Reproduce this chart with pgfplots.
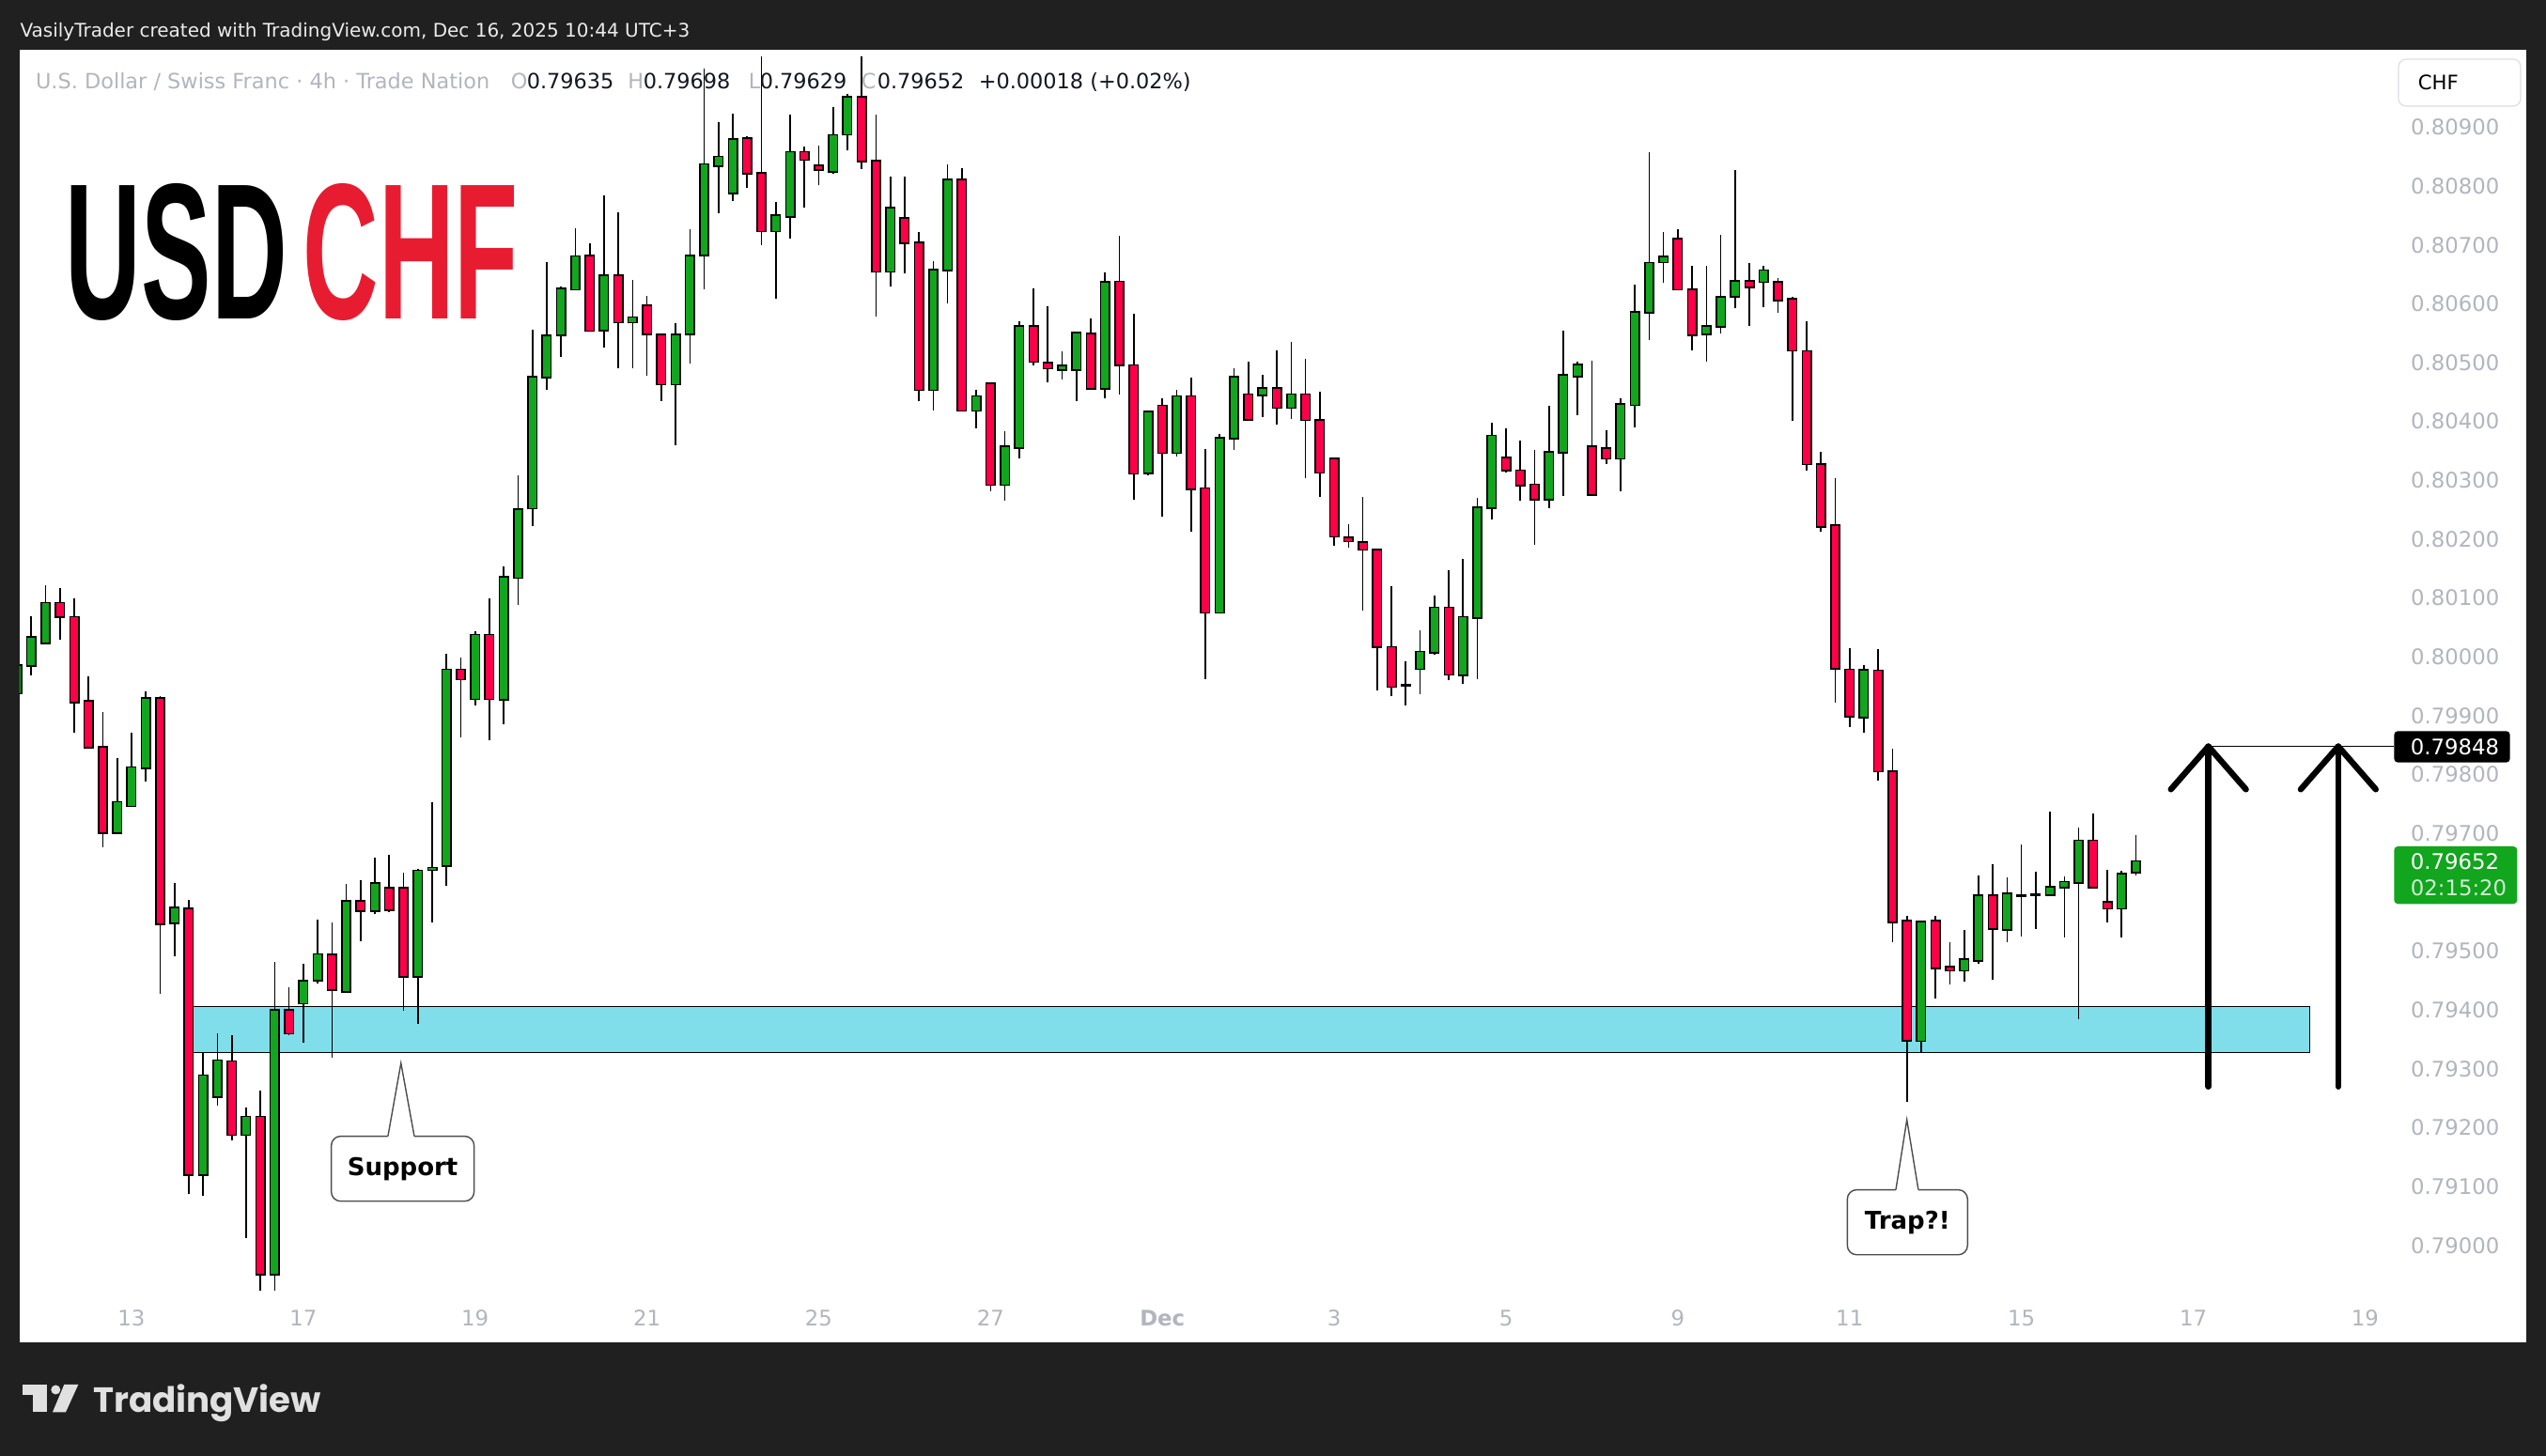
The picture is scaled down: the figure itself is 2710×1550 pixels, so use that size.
\documentclass[border=0pt]{standalone}
\usepackage{fontspec}
\usepackage{pgfplots}
\usepackage{pgfplotstable}
\pgfplotsset{compat=1.18}
\setmainfont{DejaVu Sans}
\newfontfamily\libsans{Liberation Sans}
\newfontfamily\popfont{Poppins}
\definecolor{tvframe}{RGB}{32,32,32}
\definecolor{cgreen}{RGB}{18,165,30}
\definecolor{cred}{RGB}{255,0,72}
\definecolor{zonecol}{RGB}{128,222,234}
\definecolor{tvgray}{RGB}{178,181,190}
\definecolor{tvdark}{RGB}{19,23,34}
\definecolor{logored}{RGB}{232,28,48}
\definecolor{logowhite}{RGB}{224,224,224}
\newcommand\tickfont{\fontsize{5.7pt}{6.8pt}\selectfont}

% prices in units of 0.00001
\pgfplotstableread{
x o h l c
-8 79939 79990 79925 79985
-7 79986 80069 79968 80033
-6 80024 80122 80021 80091
-1 79702 79828 79702 79753
0 79747 79872 79746 79812
1 79812 79942 79789 79929
3 79549 79616 79491 79573
5 79121 79327 79084 79288
6 79253 79361 79237 79314
8 79189 79234 79012 79218
10 78952 79482 78924 79399
12 79412 79479 79345 79449
13 79451 79554 79445 79494
15 79432 79614 79429 79584
17 79569 79659 79563 79615
20 79458 79640 79377 79636
21 79639 79753 79549 79641
22 79646 80006 79611 79978
24 79929 80044 79918 80037
26 79928 80153 79885 80135
27 80135 80309 80089 80250
28 80253 80556 80222 80475
29 80476 80671 80454 80545
30 80548 80630 80509 80625
31 80625 80728 80624 80680
33 80556 80784 80525 80647
35 80569 80640 80490 80576
38 80464 80567 80360 80547
39 80549 80726 80498 80681
40 80683 81000 80625 80836
41 80835 80908 80753 80849
42 80789 80923 80775 80879
45 80724 80773 80608 80749
46 80749 80921 80711 80857
49 80825 80934 80821 80886
50 80888 80957 80860 80950
53 80655 80816 80630 80762
56 80454 80672 80419 80657
57 80658 80836 80600 80810
59 80419 80453 80389 80442
61 80293 80383 80265 80357
62 80356 80571 80337 80561
65 80489 80519 80472 80494
66 80489 80553 80435 80550
68 80457 80653 80439 80636
71 80313 80416 80309 80416
73 80347 80453 80341 80442
76 80076 80378 80075 80371
77 80372 80491 80352 80475
79 80445 80480 80407 80456
81 80424 80535 80405 80445
90 79980 80045 79936 80008
91 80008 80104 80003 80083
93 79970 80166 79955 80067
94 80067 80271 79963 80253
95 80254 80398 80233 80375
99 80268 80426 80253 80347
100 80348 80554 80274 80478
101 80477 80501 80411 80496
104 80338 80440 80282 80429
105 80429 80633 80390 80585
106 80586 80857 80538 80669
107 80671 80722 80635 80679
110 80549 80664 80501 80561
111 80562 80717 80549 80610
112 80613 80827 80592 80638
114 80638 80665 80594 80656
121 79898 79986 79871 79977
125 79348 79550 79329 79549
128 79468 79536 79449 79485
129 79485 79629 79478 79594
131 79537 79626 79515 79597
134 79596 79737 79595 79608
135 79609 79627 79524 79617
136 79617 79710 79385 79687
139 79573 79636 79523 79631
140 79635 79698 79629 79652
}\greentab

\pgfplotstableread{
x o h l c
-5 80091 80117 80030 80069
-4 80067 80100 79872 79924
-3 79924 79967 79845 79847
-2 79846 79907 79677 79702
2 79929 79934 79428 79547
4 79572 79587 79087 79121
7 79312 79357 79178 79189
9 79218 79263 78924 78952
11 79399 79439 79358 79361
14 79493 79549 79319 79435
16 79584 79621 79517 79569
18 79607 79664 79566 79571
19 79607 79633 79399 79458
23 79978 79999 79864 79963
25 80037 80100 79858 79929
32 80681 80702 80552 80555
34 80647 80755 80490 80569
36 80596 80614 80477 80549
37 80547 80547 80435 80464
43 80880 80885 80797 80822
44 80821 81020 80699 80724
47 80857 80867 80764 80845
48 80834 80868 80801 80828
51 80950 81020 80829 80843
52 80842 80921 80579 80655
54 80745 80816 80651 80704
55 80703 80722 80434 80454
58 80810 80830 80418 80419
60 80464 80464 80282 80293
63 80561 80626 80496 80502
64 80499 80596 80466 80491
67 80548 80575 80457 80457
69 80637 80716 80445 80497
70 80495 80583 80267 80312
72 80426 80439 80239 80347
74 80442 80475 80212 80286
75 80286 80353 79963 80076
78 80445 80501 80404 80404
80 80456 80520 80395 80424
82 80445 80506 80304 80403
83 80401 80450 80272 80314
84 80336 80339 80189 80205
85 80202 80225 80185 80197
86 80194 80272 80078 80183
87 80181 80184 79943 80018
88 80016 80120 79933 79950
92 80083 80148 79960 79971
96 80338 80388 80313 80318
97 80316 80367 80266 80292
98 80292 80351 80191 80268
102 80357 80503 80274 80276
103 80354 80385 80328 80338
108 80709 80726 80624 80625
109 80623 80665 80521 80548
113 80638 80670 80563 80629
115 80636 80643 80584 80607
116 80607 80612 80401 80521
117 80519 80570 80317 80328
118 80326 80348 80213 80222
119 80223 80304 79923 79981
120 79978 80015 79881 79900
122 79976 80013 79790 79806
123 79805 79844 79516 79550
124 79551 79560 79244 79349
126 79551 79560 79420 79472
127 79473 79515 79444 79468
130 79594 79648 79452 79539
137 79687 79734 79609 79609
138 79583 79639 79549 79573
}\redtab

\pgfplotstableread{
x o h l c
89 79952 79993 79918 79952
132 79595 79681 79525 79595
133 79596 79635 79538 79596
}\dojitab

\pgfplotsset{
  cbase/.style={draw=none, mark=none, forget plot,
    error bars/y dir=plus, error bars/y explicit, error bars/error mark=none},
  wick/.style={cbase, error bars/error bar style={draw=black, line width=0.42pt, line cap=butt}},
  underlay/.style={cbase, error bars/error bar style={draw=black, line width=2.75pt, line cap=butt}},
  bodyfill/.style={cbase, error bars/error bar style={draw=#1, line width=1.95pt, line cap=butt}},
}
\tikzset{
  callout/.style={draw=black!70, fill=white, rounded corners=2.5pt, line width=0.35pt,
    font=\bfseries\fontsize{6.5pt}{7.5pt}\selectfont, text=black,
    minimum height=17.3pt, inner sep=0pt},
}

\begin{document}
\begin{tikzpicture}
% ---------- frame and panel (full-size pixel coordinates) ----------
\begin{scope}[x=0.25pt,y=-0.25pt,shift={(-20.7,-1380)}]
  \fill[tvframe] (0,0) rectangle (2710,1550);
  \fill[white] (20.7,53.5) rectangle (2689,1429);
\end{scope}

\begin{axis}[
  at={(0pt,0pt)}, anchor=south west,
  scale only axis, width=631.9pt, height=331.625pt,
  xmin=-7.828, xmax=158.03, ymin=78913.74, ymax=81030.7,
  axis line style={draw=none},
  major tick length=0pt, tick style={draw=none},
  scaled y ticks=false, scaled x ticks=false,
  xtick={0,12,24,36,48,60,72,84,96,108,120,132,144,156},
  xticklabels={13,17,19,21,25,27,\textbf{Dec},3,5,9,11,15,17,19},
  xticklabel style={font=\tickfont, text=tvgray, anchor=center, yshift=-5.75pt},
  ytick={79000,79100,79200,79300,79400,79500,79700,79800,79900,80000,80100,80200,80300,80400,80500,80600,80700,80800,80900},
  yticklabels={0.79000,0.79100,0.79200,0.79300,0.79400,0.79500,0.79700,0.79800,0.79900,0.80000,0.80100,0.80200,0.80300,0.80400,0.80500,0.80600,0.80700,0.80800,0.80900},
  yticklabel pos=right,
  yticklabel style={font=\tickfont, text=tvgray, anchor=west, inner sep=0pt, xshift=4.25pt},
]
% support zone
\addplot[fill=zonecol, draw=black, line width=0.33pt, forget plot]
  coordinates {(4.27,79327.6) (152.12,79327.6) (152.12,79405.8) (4.27,79405.8)} -- cycle;

% wicks
\addplot[wick] table[x=x, y=l, y error plus expr=\thisrow{h}-\thisrow{l}] {\greentab};
\addplot[wick] table[x=x, y=l, y error plus expr=\thisrow{h}-\thisrow{l}] {\redtab};
\addplot[wick] table[x=x, y=l, y error plus expr=\thisrow{h}-\thisrow{l}] {\dojitab};
% body outlines
\addplot[underlay] table[x=x, y expr=\thisrow{o}-2.55, y error plus expr=\thisrow{c}-\thisrow{o}+5.1] {\greentab};
\addplot[underlay] table[x=x, y expr=\thisrow{c}-2.55, y error plus expr=\thisrow{o}-\thisrow{c}+5.1] {\redtab};
\addplot[underlay] table[x=x, y expr=\thisrow{o}-2.55, y error plus expr=5.1] {\dojitab};
% body fills
\addplot[bodyfill=cgreen] table[x=x, y=o, y error plus expr=\thisrow{c}-\thisrow{o}] {\greentab};
\addplot[bodyfill=cred] table[x=x, y=c, y error plus expr=\thisrow{o}-\thisrow{c}] {\redtab};

% level line and arrows
\addplot[black, line width=0.45pt, forget plot] coordinates {(145.06,79848) (158.03,79848)};
\addplot[black, line width=1.6pt, line cap=round, forget plot] coordinates {(145.06,79270) (145.06,79848)};
\addplot[black, line width=1.6pt, line cap=round, line join=round, forget plot] coordinates {(142.44,79775) (145.06,79848) (147.68,79775)};
\addplot[black, line width=1.6pt, line cap=round, forget plot] coordinates {(154.13,79270) (154.13,79848)};
\addplot[black, line width=1.6pt, line cap=round, line join=round, forget plot] coordinates {(151.51,79775) (154.13,79848) (156.75,79775)};

% callouts
\node[callout, minimum width=38pt] at (axis cs:18.94,79130.5) {Support};
\fill[white] (axis cs:17.91,79185.7) -- (axis cs:18.82,79309.9) -- (axis cs:19.75,79185.7)
  -- ([yshift=-0.6pt]axis cs:19.75,79185.7) -- ([yshift=-0.6pt]axis cs:17.91,79185.7) -- cycle;
\draw[black!70, line width=0.35pt] (axis cs:17.91,79185.7) -- (axis cs:18.82,79309.9) -- (axis cs:19.75,79185.7);

\node[callout, minimum width=32pt] at (axis cs:124.04,79039.5) {Trap?!};
\fill[white] (axis cs:123.23,79094.7) -- (axis cs:124.0,79213.8) -- (axis cs:124.8,79094.7)
  -- ([yshift=-0.6pt]axis cs:124.8,79094.7) -- ([yshift=-0.6pt]axis cs:123.23,79094.7) -- cycle;
\draw[black!70, line width=0.35pt] (axis cs:123.23,79094.7) -- (axis cs:124.0,79213.8) -- (axis cs:124.8,79094.7);
\end{axis}

% ---------- overlays (full-size pixel coordinates) ----------
\begin{scope}[x=0.25pt,y=-0.25pt,shift={(-20.7,-1380)}]
  % header
  \node[anchor=base west, inner sep=0pt, text=white!92!black, font=\fontsize{5pt}{6pt}\selectfont]
    at (20.7,39.3) {VasilyTrader created with TradingView.com, Dec 16, 2025 10:44 UTC+3};
  % legend
  \begin{scope}[every node/.style={anchor=base west, inner sep=0pt, font=\fontsize{5.6pt}{6.5pt}\selectfont}]
    \node[text=tvgray] at (37.3,94.5) {U.S. Dollar / Swiss Franc · 4h · Trade Nation};
    \node[text=tvgray] at (543,94.5) {O};
    \node[text=tvdark] at (560,94.5) {0.79635};
    \node[text=tvgray] at (667.5,94.5) {H};
    \node[text=tvdark] at (684,94.5) {0.79698};
    \node[text=tvgray] at (796,94.5) {L};
    \node[text=tvdark] at (808,94.5) {0.79629};
    \node[text=tvgray] at (916,94.5) {C};
    \node[text=tvdark] at (933,94.5) {0.79652};
    \node[text=tvdark] at (1041,94.5) {+0.00018 (+0.02\%)};
  \end{scope}
  % USDCHF title
  \node[anchor=north west, inner sep=0pt, text=black] at (69,194.3) {\resizebox{59pt}{36pt}{\libsans\bfseries USD}};
  \node[anchor=north west, inner sep=0pt, text=logored] at (321.7,194.3) {\resizebox{57.3pt}{36pt}{\libsans\bfseries CHF}};
  % currency box
  \draw[draw=tvgray!45, fill=white, rounded corners=2pt, line width=0.3pt] (2553,63) rectangle (2683,113);
  \node[anchor=west, inner sep=0pt, text=black, font=\fontsize{5.3pt}{6pt}\selectfont] at (2573,88) {CHF};
  % price labels
  \fill[black, rounded corners=1pt] (2548.3,778.3) rectangle (2671.7,811.7);
  \node[anchor=west, inner sep=0pt, text=white, font=\tickfont] at (2565,795) {0.79848};
  \fill[cgreen, rounded corners=1pt] (2548.3,901) rectangle (2679.3,962.3);
  \node[anchor=west, inner sep=0pt, text=white, font=\tickfont] at (2565,917.3) {0.79652};
  \node[anchor=west, inner sep=0pt, text=white!80!cgreen, font=\tickfont] at (2565,945) {02:15:20};
  % TradingView logo
  \fill[logowhite] (24,1474) rectangle (50,1485);
  \fill[logowhite] (35,1474) rectangle (50,1503.3);
  \fill[logowhite] (59.3,1479.5) circle (5);
  \fill[logowhite] (68.3,1474) -- (83.3,1474) -- (70,1503.3) -- (56,1503.3) -- cycle;
  \node[anchor=base west, inner sep=0pt, text=logowhite, font=\popfont\bfseries\fontsize{9.3pt}{11pt}\selectfont]
    at (98.3,1503.3) {TradingView};
\end{scope}
\end{tikzpicture}
\end{document}
